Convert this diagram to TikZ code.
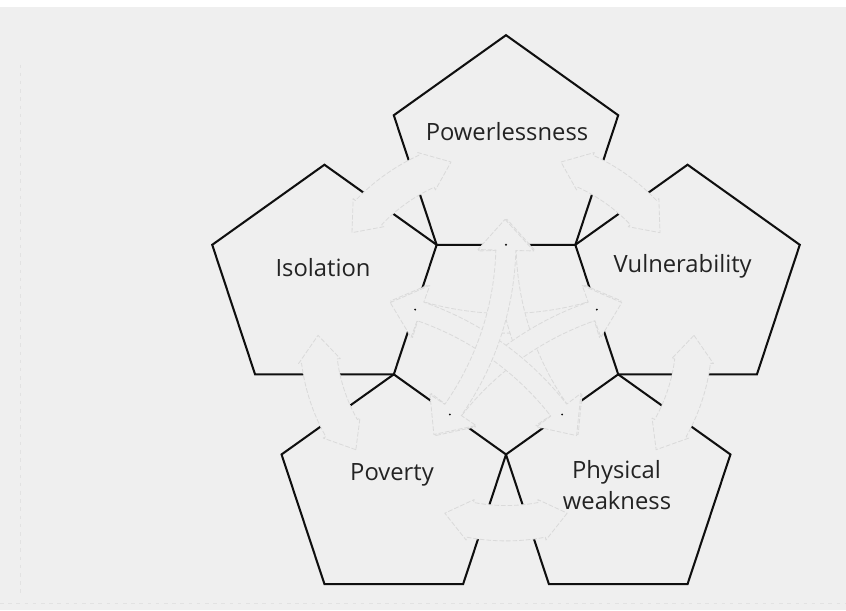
\documentclass[tikz,border=0pt]{standalone}
\usepackage{fontspec}
\setmainfont{Open Sans}
\usetikzlibrary{calc}
\definecolor{bg}{RGB}{239,239,239}
\definecolor{faint}{RGB}{218,218,218}
\definecolor{scan}{RGB}{226,226,226}
\definecolor{ink}{RGB}{15,15,15}
\definecolor{txt}{RGB}{35,35,35}
\tikzset{
  pent/.style={draw=ink, line width=1.75pt, line join=miter},
  ghost/.style={draw=faint, fill=bg, line width=0.7pt, dash pattern=on 4pt off 1.6pt, line join=round},
  lbl/.style={font=\fontsize{20.3}{24}\selectfont, text=txt, inner sep=0pt, anchor=base},
  scanline/.style={draw=scan, line width=0.6pt, dash pattern=on 3pt off 4pt},
}
\newcommand\outerarrow[1]{%
  \filldraw[ghost]
    ($(C)+(#1-19:188)$) -- ($(C)+(#1-11:209)$) -- ($(C)+(#1-11:206)$)
    -- plot[domain=#1-11:#1+11, samples=14] ([shift={(C)}]\x:206)
    -- ($(C)+(#1+11:209)$) -- ($(C)+(#1+19:188)$) -- ($(C)+(#1+11:167)$) -- ($(C)+(#1+11:170)$)
    -- plot[domain=#1+11:#1-11, samples=14] ([shift={(C)}]\x:170)
    -- ($(C)+(#1-11:167)$) -- cycle;
}
\newcommand\innerarrow[1]{%
  \coordinate (Q) at ($(C)+(#1:316.5)$);
  \pgfmathsetmacro\gam{#1+180}
  \filldraw[ghost]
    ($(Q)+(\gam-22.5:301)$) -- ($(Q)+(\gam-16.5:329)$) -- ($(Q)+(\gam-16.5:311)$)
    -- plot[domain=\gam-16.5:\gam+16.5, samples=24] ([shift={(Q)}]\x:311)
    -- ($(Q)+(\gam+16.5:329)$) -- ($(Q)+(\gam+22.5:301)$) -- ($(Q)+(\gam+16.5:273)$) -- ($(Q)+(\gam+16.5:291)$)
    -- plot[domain=\gam+16.5:\gam-16.5, samples=24] ([shift={(Q)}]\x:291)
    -- ($(Q)+(\gam-16.5:273)$) -- cycle;
}
\begin{document}
\begin{tikzpicture}[x={(0.03cm,0)}, y={(0,-0.02946cm)}]
  % page
  \fill[bg] (0,-5.7) rectangle (846,615.5);
  \useasboundingbox (0,-5.7) rectangle (846,615.5);
  \fill[white] (0,-5.7) rectangle (846,1.5);
  \draw[scanline] (0,608.4) -- (846,608.4);
  \draw[scanline] (20,60) -- (20,600);
  % centre of the middle pentagon
  \coordinate (C) at (506,339);
  % five outer pentagons (their inner edges form the middle one)
  \foreach \t/\n in {270/pw,342/vu,54/ph,126/po,198/is}{
    \coordinate (O\n) at ($(C)+(\t:190.9)$);
    \draw[pent] ($(O\n)+(\t:118)$) -- ($(O\n)+(\t+72:118)$) -- ($(O\n)+(\t+144:118)$)
      -- ($(O\n)+(\t+216:118)$) -- ($(O\n)+(\t+288:118)$) -- cycle;
  }
  % faint arrows between neighbouring pentagons
  \foreach \a in {234,306,18,90,162}{ \outerarrow{\a} }
  % faint arrows across the middle
  \foreach \b in {270,342,54,126,198}{ \innerarrow{\b} }
  % specks at the edge midpoints
  \foreach \m in {270,342,54,126,198}{ \fill[ink] ($(C)+(\m:95.5)$) circle[radius=0.9pt]; }
  % labels
  \node[lbl] (tpow) at (507,136.9) {Powerlessness};
  \node[lbl] (tiso) at (323,275.4) {Isolation};
  \node[lbl] (tvul) at (682.7,272.0) {Vulnerability};
  \node[lbl] (tpov) at (392,483.1) {Poverty};
  \node[lbl] (tphy) at (616.5,481.4) {Physical};
  \node[lbl] (twea) at (617,513.0) {weakness};
\end{tikzpicture}
\end{document}
